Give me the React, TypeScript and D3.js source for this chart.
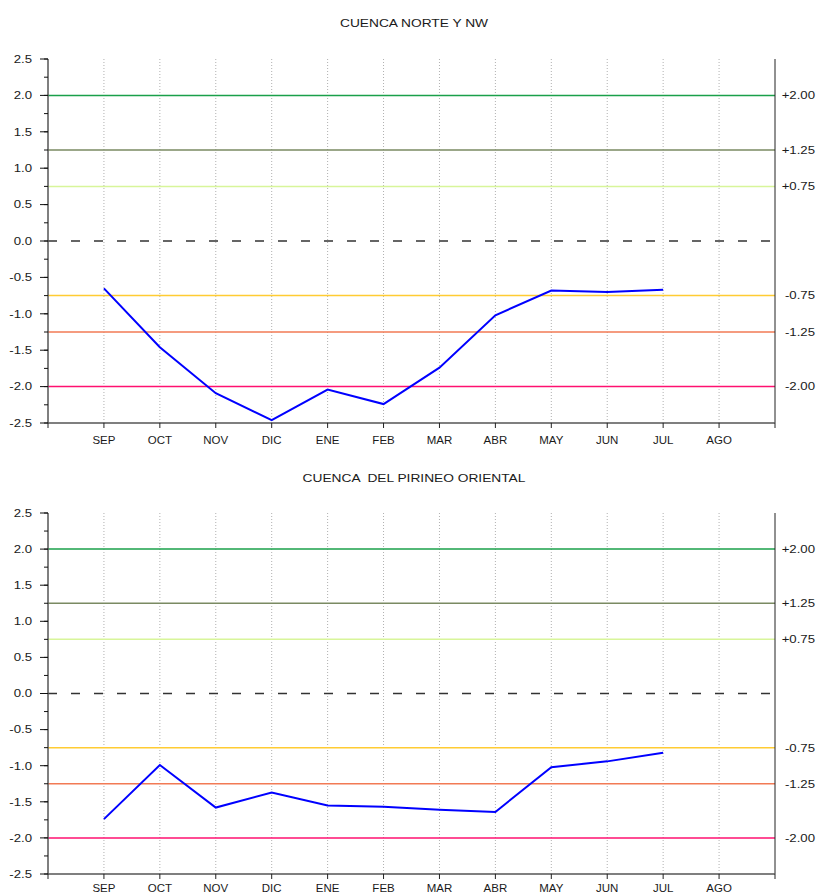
import React from "react";
import * as d3 from "d3";

const months = ["SEP", "OCT", "NOV", "DIC", "ENE", "FEB", "MAR", "ABR", "MAY", "JUN", "JUL", "AGO"];
const norteValues = [-0.65, -1.46, -2.09, -2.46, -2.04, -2.24, -1.74, -1.02, -0.68, -0.7, -0.67];
const pirineoValues = [-1.74, -0.99, -1.58, -1.37, -1.55, -1.57, -1.61, -1.64, -1.02, -0.94, -0.82];
const yMajorTicks = [2.5, 2.0, 1.5, 1.0, 0.5, 0.0, -0.5, -1.0, -1.5, -2.0, -2.5];
const thresholds = [
  { v: 2.0, label: "+2.00", color: "#1aa04a" },
  { v: 1.25, label: "+1.25", color: "#7a8a62" },
  { v: 0.75, label: "+0.75", color: "#d8f59a" },
  { v: -0.75, label: "-0.75", color: "#ffcc33" },
  { v: -1.25, label: "-1.25", color: "#f27a55" },
  { v: -2.0, label: "-2.00", color: "#ff1070" },
];

const FONT = "Liberation Sans, Arial, sans-serif";

function SText({ x, y, size, sx, anchor, children, dy }: { x: number; y: number; size: number; sx: number; anchor: string; children: React.ReactNode; dy?: string }) {
  return (
    <text
      transform={`translate(${x},${y}) scale(${sx},1)`}
      dy={dy}
      textAnchor={anchor}
      fontFamily={FONT}
      fontSize={size}
      fill="#1a1a1a"
      style={{ whiteSpace: "pre" }}
    >
      {children}
    </text>
  );
}

function Panel({ title, values, top, bottom, titleY }: { title: string; values: number[]; top: number; bottom: number; titleY: number }) {
  const left = 48;
  const right = 775;
  const x = d3.scaleLinear().domain([0, 13]).range([left, right]);
  const y = d3.scaleLinear().domain([-2.5, 2.5]).range([bottom, top]);
  const minor = d3.range(-2.5, 2.5001, 0.25);
  const line = d3
    .line<number>()
    .x((_, i) => x(i + 1))
    .y((d) => y(d));
  const slots = d3.range(0, 14);
  const monthY = Math.min(bottom + 21, 892);
  return (
    <g>
      <SText x={414} y={titleY} size={11} sx={1.25} anchor="middle">
        {title}
      </SText>
      {months.map((m, i) => (
        <line key={m} x1={x(i + 1)} x2={x(i + 1)} y1={top} y2={bottom} stroke="#b0b0b0" strokeDasharray="1,2" />
      ))}
      {thresholds.map((t) => (
        <g key={t.label}>
          <line x1={left} x2={right} y1={y(t.v)} y2={y(t.v)} stroke={t.color} strokeWidth={1.5} />
          <SText x={815} y={y(t.v)} dy="0.35em" size={11} sx={1.2} anchor="end">
            {t.label}
          </SText>
        </g>
      ))}
      <line x1={left} x2={right} y1={y(0)} y2={y(0)} stroke="#333" strokeWidth={1.3} strokeDasharray="9,14" />
      <path d={line(values) || ""} fill="none" stroke="#0000ff" strokeWidth={2} />
      <line x1={left} x2={left} y1={top} y2={bottom} stroke="#555" strokeWidth={1.5} />
      {minor.map((v) => (
        <line key={v} x1={left - 4} x2={left} y1={y(v)} y2={y(v)} stroke="#111" />
      ))}
      {yMajorTicks.map((v) => (
        <g key={v}>
          <line x1={left - 8} x2={left} y1={y(v)} y2={y(v)} stroke="#111" />
          <SText x={32} y={y(v)} dy="0.35em" size={11} sx={1.2} anchor="end">
            {v.toFixed(1)}
          </SText>
        </g>
      ))}
      <line x1={right} x2={right} y1={top} y2={bottom} stroke="#222" strokeWidth={1} />
      <line x1={left} x2={right} y1={bottom} y2={bottom} stroke="#555" strokeWidth={1.5} />
      {slots.map((s) => (
        <line key={s} x1={x(s)} x2={x(s)} y1={bottom} y2={bottom + 5} stroke="#222" />
      ))}
      {months.map((m, i) => (
        <SText key={m} x={x(i + 1)} y={monthY} size={10} sx={1.15} anchor="middle">
          {m}
        </SText>
      ))}
    </g>
  );
}

export default function App() {
  return (
    <svg width={819} height={894} style={{ position: "absolute", left: 0, top: 0, background: "#fff" }}>
      <rect width={819} height={894} fill="#fff" />
      <Panel title="CUENCA NORTE Y NW" values={norteValues} top={59} bottom={423} titleY={27} />
      <Panel title="CUENCA  DEL PIRINEO ORIENTAL" values={pirineoValues} top={513} bottom={874} titleY={482} />
    </svg>
  );
}
